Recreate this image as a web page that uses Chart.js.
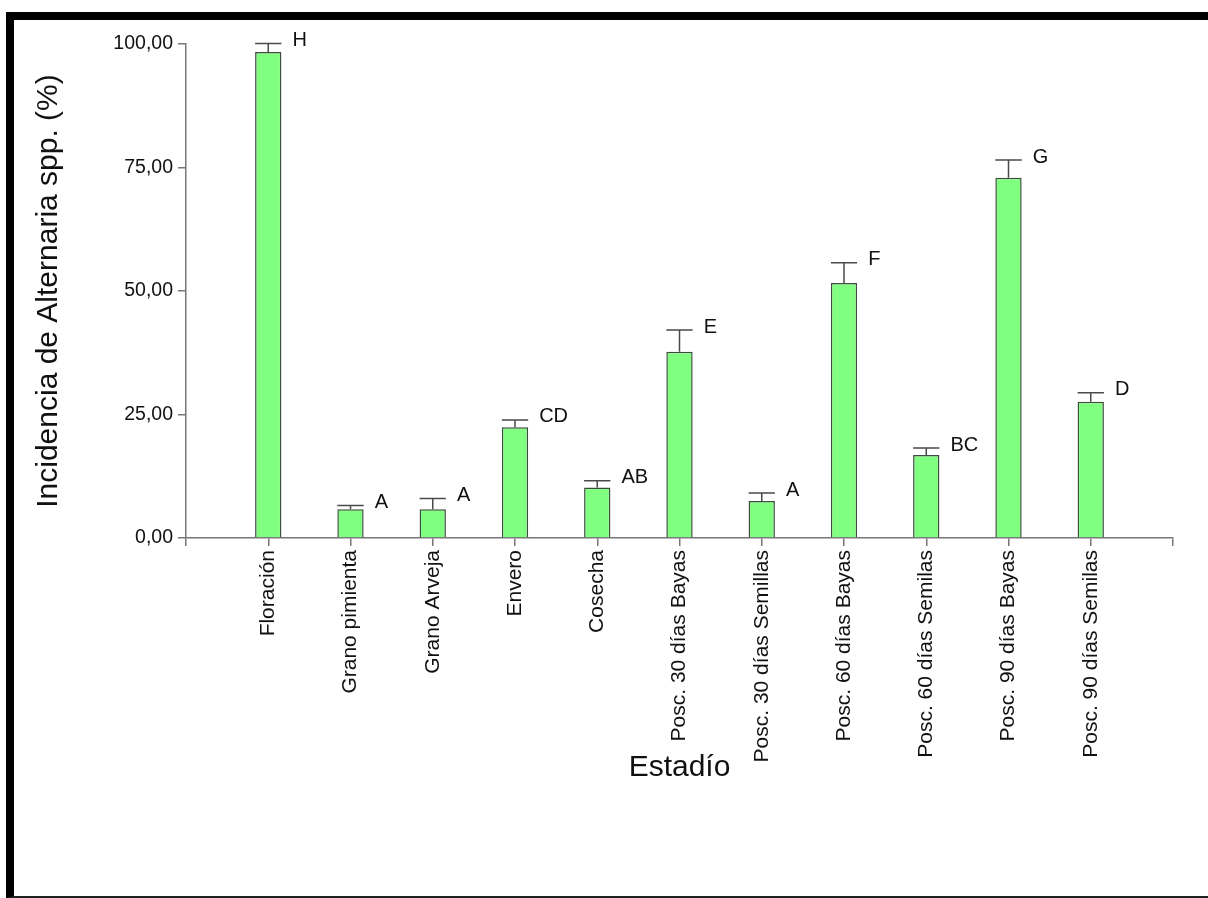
<!DOCTYPE html>
<html>
<head>
<meta charset="utf-8">
<script src="https://cdn.jsdelivr.net/npm/chart.js@4.4.1/dist/chart.umd.min.js"></script>
<style>
  html, body { margin: 0; padding: 0; background: #fff; }
  #wrap { position: relative; width: 1208px; height: 898px; overflow: hidden; background: #fff; }
  #c { position: absolute; left: 0; top: 0; }
  #frame { position: absolute; left: 6px; top: 12px; width: 1202px; height: 886px; box-sizing: border-box;
           border-left: 8px solid #000; border-top: 8px solid #000; border-bottom: 2px solid #222; pointer-events: none; }
</style>
</head>
<body>
<div id="wrap">
  <canvas id="c" width="1208" height="898"></canvas>
  <div id="frame"></div>
</div>
<script>
const categories = ['Floración', 'Grano pimienta', 'Grano Arveja', 'Envero', 'Cosecha',
  'Posc. 30 días Bayas', 'Posc. 30 días Semillas', 'Posc. 60 días Bayas',
  'Posc. 60 días Semilas', 'Posc. 90 días Bayas', 'Posc. 90 días Semilas'];
const means  = [98.4, 5.8, 5.8, 22.4, 10.2, 37.7, 7.5, 51.6, 16.8, 72.9, 27.6];
const errors = [1.7, 0.8, 2.2, 1.5, 1.4, 4.4, 1.6, 4.1, 1.4, 3.6, 1.8];
const letters = ['H', 'A', 'A', 'CD', 'AB', 'E', 'A', 'F', 'BC', 'G', 'D'];
const yTicks = [0, 25, 50, 75, 100];
const yTickLabels = ['0,00', '25,00', '50,00', '75,00', '100,00'];
const yTitle = 'Incidencia de Alternaria spp. (%)';
const xTitle = 'Estadío';

const FONT = "'Liberation Sans', Arial, sans-serif";

const labels = [''].concat(categories, ['']);
const barData = [null].concat(means, [null]);
const errData = [null].concat(errors, [null]);
const letterData = [null].concat(letters, [null]);

const errorPlugin = {
  id: 'errorBarsLetters',
  afterDatasetsDraw(chart) {
    const ctx = chart.ctx;
    const meta = chart.getDatasetMeta(0);
    const y = chart.scales.y;
    ctx.save();
    meta.data.forEach((bar, i) => {
      const v = barData[i];
      if (v === null || v === undefined) return;
      const e = errData[i];
      const half = bar.width / 2;
      const yTop = y.getPixelForValue(v + e);
      const yBar = y.getPixelForValue(v);
      ctx.strokeStyle = '#4a4a4a';
      ctx.lineWidth = 1.5;
      ctx.beginPath();
      ctx.moveTo(bar.x, yBar);
      ctx.lineTo(bar.x, yTop);
      ctx.moveTo(bar.x - half, yTop);
      ctx.lineTo(bar.x + half, yTop);
      ctx.stroke();
      ctx.fillStyle = '#111';
      ctx.font = '20px ' + FONT;
      ctx.textAlign = 'left';
      ctx.textBaseline = 'middle';
      ctx.fillText(letterData[i], bar.x + half + 11, yTop - 3);
    });
    ctx.restore();
  }
};

const bgPlugin = {
  id: 'bg',
  beforeDraw(chart) {
    const ctx = chart.ctx;
    ctx.save();
    ctx.fillStyle = '#fff';
    ctx.fillRect(0, 0, chart.width, chart.height);
    ctx.restore();
  }
};

new Chart(document.getElementById('c'), {
  type: 'bar',
  data: {
    labels: labels,
    datasets: [{
      data: barData,
      backgroundColor: '#80ff80',
      borderColor: '#3d4d3d',
      borderWidth: 1.5,
      categoryPercentage: 1,
      barPercentage: 0.32
    }]
  },
  options: {
    responsive: false,
    animation: false,
    devicePixelRatio: 1,
    layout: { padding: { top: 44, left: 0, right: 35, bottom: 0 } },
    plugins: { legend: { display: false }, tooltip: { enabled: false } },
    scales: {
      x: {
        type: 'category',
        offset: false,
        afterFit(scale) { scale.height = 360; },
        grid: { offset: false, drawOnChartArea: false, drawTicks: true, tickLength: 8, color: '#777', lineWidth: 1.5 },
        border: { display: true, color: '#777', width: 1.5 },
        ticks: {
          autoSkip: false, minRotation: 90, maxRotation: 90, padding: 4,
          color: '#111', font: { family: FONT, size: 21 }
        },
        title: {
          display: true, text: xTitle, color: '#111',
          font: { family: FONT, size: 30 }, padding: { top: 0, bottom: 112 }
        }
      },
      y: {
        min: 0, max: 100,
        afterFit(scale) { scale.width = 186; },
        afterBuildTicks(scale) { scale.ticks = yTicks.map(v => ({ value: v })); },
        grid: { drawOnChartArea: false, drawTicks: true, tickLength: 8, color: '#777', lineWidth: 1.5 },
        border: { display: true, color: '#777', width: 1.5 },
        ticks: {
          padding: 5, color: '#111', font: { family: FONT, size: 19.5 },
          callback(value) { const k = yTicks.indexOf(value); return k >= 0 ? yTickLabels[k] : ''; }
        },
        title: {
          display: true, text: yTitle, color: '#111',
          font: { family: FONT, size: 30 }, padding: { top: 31, bottom: 0 }
        }
      }
    }
  },
  plugins: [bgPlugin, errorPlugin]
});
</script>
</body>
</html>
